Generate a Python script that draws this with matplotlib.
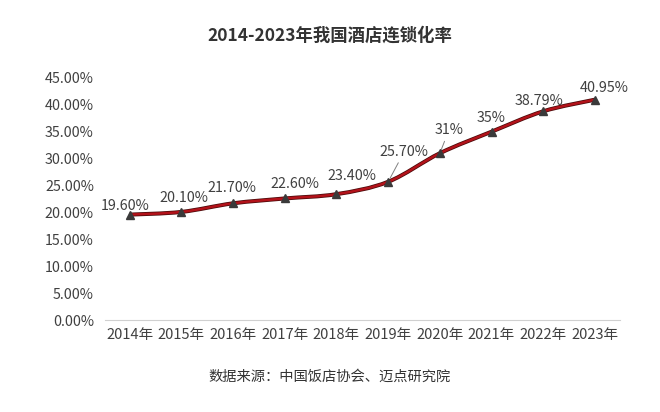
import matplotlib
matplotlib.use("Agg")
import matplotlib.pyplot as plt
from matplotlib.path import Path
from matplotlib.patches import PathPatch
import numpy as np

plt.rcParams['font.family'] = ['Noto Sans CJK SC', 'DejaVu Sans']

years = ["2014年", "2015年", "2016年", "2017年", "2018年", "2019年", "2020年", "2021年", "2022年", "2023年"]
rates = [19.60, 20.10, 21.70, 22.60, 23.40, 25.70, 31.0, 35.0, 38.79, 40.95]
labels = ["19.60%", "20.10%", "21.70%", "22.60%", "23.40%", "25.70%", "31%", "35%", "38.79%", "40.95%"]
yticks = [0, 5, 10, 15, 20, 25, 30, 35, 40, 45]
title = "2014-2023年我国酒店连锁化率"
source = "数据来源：中国饭店协会、迈点研究院"

fig = plt.figure(figsize=(6.6, 4.12), dpi=100)
ax = fig.add_axes([0.159, 0.223, 0.78, 0.588])
x = np.arange(len(years))
ax.set_xlim(-0.48, len(years) - 0.52)
ax.set_ylim(0, 45)

# smooth curve via Catmull-Rom -> Bezier
pts = np.column_stack([x, rates]).astype(float)
verts = [tuple(pts[0])]
codes = [Path.MOVETO]
n = len(pts)
for i in range(n - 1):
    p0 = pts[max(i - 1, 0)]
    p1 = pts[i]
    p2 = pts[i + 1]
    p3 = pts[min(i + 2, n - 1)]
    c1 = p1 + (p2 - p0) / 6.0
    c2 = p2 - (p3 - p1) / 6.0
    verts += [tuple(c1), tuple(c2), tuple(p2)]
    codes += [Path.CURVE4] * 3
path = Path(verts, codes)
ax.add_patch(PathPatch(path, facecolor='none', edgecolor='#4a0a0a', lw=2.9, zorder=2))
ax.add_patch(PathPatch(path, facecolor='none', edgecolor='#b3121a', lw=1.8, zorder=3))
ax.plot(x, rates, linestyle='none', marker='^', markersize=6, color='#3a3a3a', zorder=4)

# label offsets in pixels: (dx, baseline height above point)
offsets = [(-5, 5), (2, 10), (-1, 11), (10, 10), (15, 14), (16, 26), (9, 19), (0, 10), (-4, 6), (9, 8)]
for i, (lab, (dx, dy)) in enumerate(zip(labels, offsets)):
    kw = {}
    if i in (5, 6):
        kw['arrowprops'] = dict(arrowstyle='-', color='#808080', lw=0.7, shrinkA=1, shrinkB=3)
    ax.annotate(lab, xy=(x[i], rates[i]), xytext=(dx, dy), textcoords='offset pixels',
                ha='center', va='baseline', fontsize=10.3, color='#404040', **kw)

ax.set_yticks(yticks)
ax.set_yticklabels([f"{v:.2f}%" for v in yticks], fontsize=10.3, color='#404040')
ax.set_xticks(x)
ax.set_xticklabels(years, fontsize=10.5, color='#404040')
ax.tick_params(axis='both', length=0)
ax.tick_params(axis='x', pad=6)
ax.tick_params(axis='y', pad=8)
for s in ['top', 'right', 'left']:
    ax.spines[s].set_visible(False)
ax.spines['bottom'].set_color('#d0d0d0')
ax.spines['bottom'].set_linewidth(0.8)

fig.text(0.5, 0.913, title, ha='center', va='center', fontsize=12.5, fontweight='bold', color='#333333')
fig.text(0.5, 0.085, source, ha='center', va='center', fontsize=10.3, color='#333333')

fig.savefig("out.png", dpi=100, facecolor='white')
